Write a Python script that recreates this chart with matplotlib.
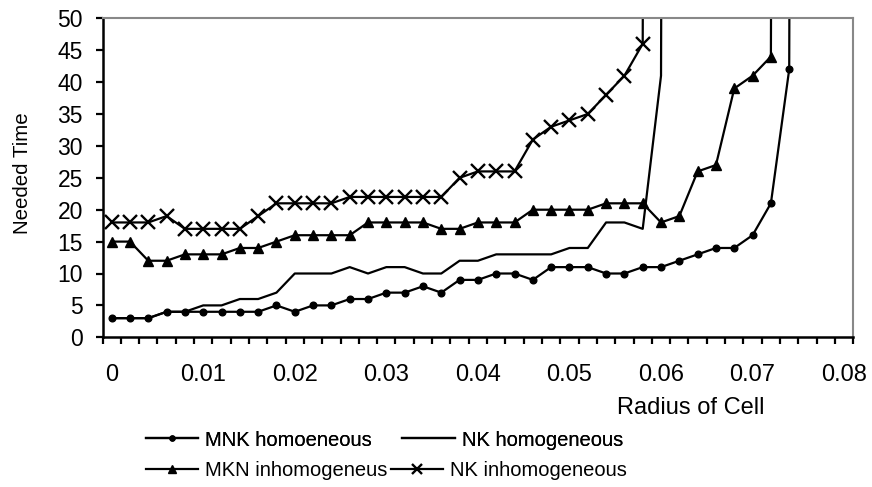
import numpy as np
import matplotlib
matplotlib.use("Agg")
import matplotlib.pyplot as plt
from matplotlib.ticker import FixedLocator, FormatStrFormatter

plt.rcParams['font.family'] = ['Liberation Sans', 'DejaVu Sans']

# radius of cell, one category every 0.002
radius = np.round(np.arange(0, 0.0801, 0.002), 3)

# needed time, the last value of each series shoots far above the chart
mnk_homo = [3, 3, 3, 4, 4, 4, 4, 4, 4, 5, 4, 5, 5, 6, 6, 7, 7, 8, 7, 9,
            9, 10, 10, 9, 11, 11, 11, 10, 10, 11, 11, 12, 13, 14, 14, 16, 21, 42, 1000]
nk_homo = [3, 3, 3, 4, 4, 5, 5, 6, 6, 7, 10, 10, 10, 11, 10, 11, 11, 10, 10, 12,
           12, 13, 13, 13, 13, 14, 14, 18, 18, 17, 41, 1000]
mkn_inhomo = [15, 15, 12, 12, 13, 13, 13, 14, 14, 15, 16, 16, 16, 16, 18, 18, 18, 18, 17, 17,
              18, 18, 18, 20, 20, 20, 20, 21, 21, 21, 18, 19, 26, 27, 39, 41, 44, 1000]
nk_inhomo = [18, 18, 18, 19, 17, 17, 17, 17, 19, 21, 21, 21, 21, 22, 22, 22, 22, 22, 22, 25,
             26, 26, 26, 31, 33, 34, 35, 38, 41, 46, 1000]

names = ["MNK homoeneous", "NK homogeneous", "MKN inhomogeneus", "NK inhomogeneous"]

fig = plt.figure(figsize=(8.72, 4.87), dpi=100)
ax = fig.add_axes([102.5/872, 1-337.3/487, 750.8/872, 319/487])

l1, = ax.plot(radius[:len(mnk_homo)], mnk_homo, '-o', color='black', lw=1.6, ms=4.8, label=names[0])
l2, = ax.plot(radius[:len(nk_homo)], nk_homo, '-', color='black', lw=1.6, label=names[1])
l3, = ax.plot(radius[:len(mkn_inhomo)], mkn_inhomo, '-^', color='black', lw=1.6, ms=7, label=names[2])
l4, = ax.plot(radius[:len(nk_inhomo)], nk_inhomo, '-x', color='black', lw=1.6, ms=9.5, mew=1.7, label=names[3])

ax.set_xlim(-0.001, 0.081)
ax.set_ylim(0, 50)
ax.set_yticks(np.arange(0, 51, 5))
ax.set_xticks(np.arange(0, 0.0801, 0.01))
ax.xaxis.set_major_formatter(FormatStrFormatter('%g'))
ax.xaxis.set_minor_locator(FixedLocator(np.arange(-0.001, 0.0811, 0.002)))
ax.tick_params(axis='x', which='major', length=0, pad=19, labelsize=17)
ax.tick_params(axis='x', which='minor', length=5, width=1.6, direction='out')
ax.tick_params(axis='y', which='major', length=5, width=1.6, direction='out', pad=9, labelsize=16.5)

for s in ['left', 'bottom']:
    ax.spines[s].set_linewidth(1.8)
    ax.spines[s].set_color('black')
for s in ['top', 'right']:
    ax.spines[s].set_linewidth(1.5)
    ax.spines[s].set_color('#888888')

fig.text(23/872, 1-173/487, "Needed Time", rotation=90, ha='center', va='center', fontsize=14.8)
fig.text(691/872, 1-408/487, "Radius of Cell", ha='center', va='center', fontsize=17)

leg1 = fig.legend([l1, l2], names[:2], loc='center left', bbox_to_anchor=(146/872, 1-440/487),
                  ncol=2, frameon=False, fontsize=14.5, borderpad=0, borderaxespad=0,
                  handlelength=2.6, handletextpad=0.35, columnspacing=1.5)
fig.add_artist(leg1)
leg2 = fig.legend([l3, l4], names[2:], loc='center left', bbox_to_anchor=(146/872, 1-471/487),
                  ncol=2, frameon=False, fontsize=14.5, borderpad=0, borderaxespad=0,
                  handlelength=2.6, handletextpad=0.35, columnspacing=0.15)
for lg in (leg1, leg2):
    for h in lg.legend_handles:
        h.set_markersize(h.get_markersize() * 0.75)

fig.savefig("out.png", dpi=100)
